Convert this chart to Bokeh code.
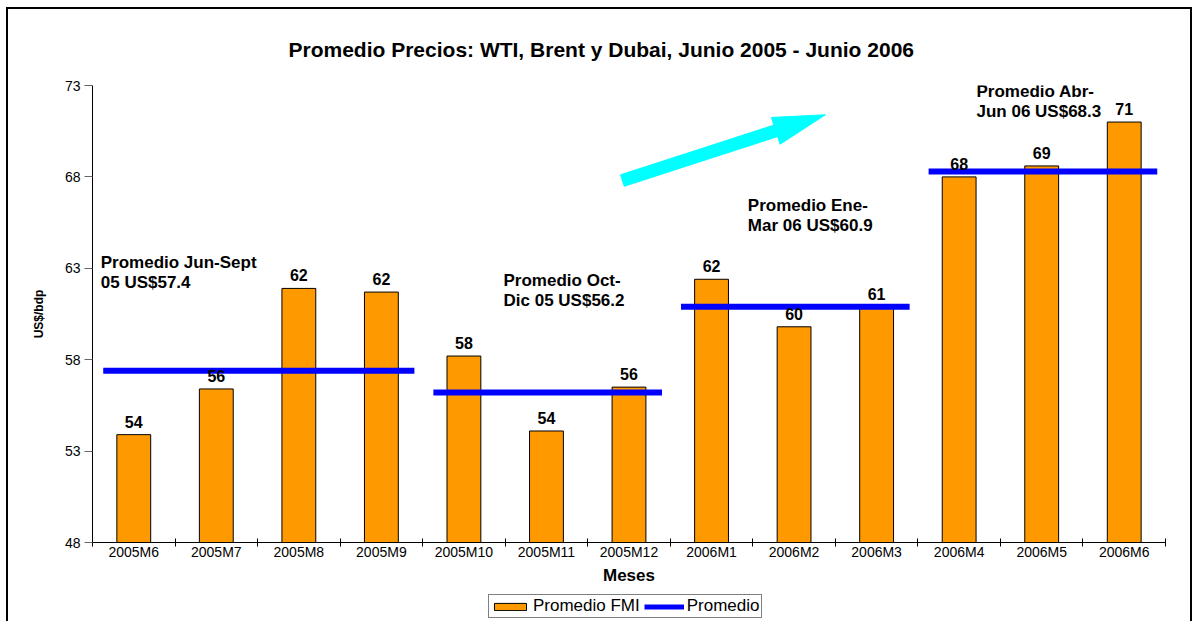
from bokeh.plotting import figure
from bokeh.layouts import column
from bokeh.models import (ColumnDataSource, FixedTicker, LabelSet, Legend, LegendItem, Range1d)
from bokeh.embed import file_html
from bokeh.resources import INLINE
from bokeh.core.properties import value

# ---------------- data ----------------
months = ["2005M6", "2005M7", "2005M8", "2005M9", "2005M10", "2005M11", "2005M12",
          "2006M1", "2006M2", "2006M3", "2006M4", "2006M5", "2006M6"]
prices = [53.9, 56.4, 61.9, 61.7, 58.2, 54.1, 56.5, 62.4, 59.8, 60.9, 68.0, 68.6, 71.0]
price_labels = ["54", "56", "62", "62", "58", "54", "56", "62", "60", "61", "68", "69", "71"]
y_ticks = [48, 53, 58, 63, 68, 73]

period_first = [0, 4, 7, 10]
period_last = [3, 6, 9, 12]
period_avg = [57.4, 56.2, 60.9, 68.3]
period_text = ["Promedio Jun-Sept\n05 US$57.4", "Promedio Oct-\nDic 05 US$56.2",
               "Promedio Ene-\nMar 06 US$60.9", "Promedio Abr-\nJun 06 US$68.3"]
series_names = ["Promedio FMI", "Promedio"]
# annotation anchors (x in month index, y in US$/bdp)
period_text_x = [-0.40, 4.48, 7.44, 10.21]
period_text_y = [63.85, 62.85, 66.95, 73.2]
arrow_start = (5.92, 67.8)
arrow_end = (8.38, 71.4)

# ---------------- layout ----------------
FW, FH = 1069, 455
BL, BR, BT, BB = 84, 29, 76, 50
Y0, Y1 = 48, 73
X0, X1 = -0.5, len(months) - 0.5
FONT = "Liberation Sans"
BAR_COLOR, LINE_COLOR = "#FF9900", "#0000FF"

p = figure(frame_width=FW, frame_height=FH,
           x_range=Range1d(X0, X1), y_range=Range1d(Y0, Y1),
           output_backend="svg", toolbar_location=None,
           min_border_left=BL, min_border_right=BR, min_border_top=BT, min_border_bottom=BB,
           title="Promedio Precios: WTI, Brent y Dubai, Junio 2005 - Junio 2006")
p.styles = {"border-left": "2px solid black", "border-top": "2px solid black",
            "border-right": "2px solid black", "margin-left": "6px", "margin-top": "7px"}
p.outline_line_color = None
p.grid.visible = False
p.background_fill_color = "white"
p.border_fill_color = "white"

p.title.text_font = FONT
p.title.text_font_size = "21px"
p.title.text_font_style = "bold"
p.title.text_color = "black"
p.title.align = "left"
p.title.offset = 196
p.title.standoff = 50

# bars
src = ColumnDataSource(dict(x=list(range(len(months))), top=prices, lab=price_labels))
p.vbar(x="x", top="top", bottom=Y0, width=0.41, source=src,
       fill_color=BAR_COLOR, line_color="black", line_width=1)

# value labels
p.add_layout(LabelSet(x="x", y="top", text="lab", source=src, text_align="center",
                      text_baseline="bottom", y_offset=7, text_font=value(FONT),
                      text_font_size="16px", text_font_style="bold", text_color="black"))

# period average lines
pad_l, pad_r = 0.37, 0.40
seg_src = ColumnDataSource(dict(x0=[f - pad_l for f in period_first],
                                x1=[l + pad_r for l in period_last],
                                y=period_avg))
p.segment(x0="x0", y0="y", x1="x1", y1="y", source=seg_src,
          line_color=LINE_COLOR, line_width=6, line_cap="butt")

# period annotations
ann_src = ColumnDataSource(dict(x=period_text_x, y=period_text_y, t=period_text))
p.add_layout(LabelSet(x="x", y="y", text="t", source=ann_src, text_align="left",
                      text_baseline="top", text_font=value(FONT), text_font_size="17px",
                      text_font_style="bold", text_color="black", text_line_height=1.05))

# cyan arrow as polygon built in pixel space
sx = FW / (X1 - X0)
sy = FH / (Y1 - Y0)
ax0, ay0 = arrow_start[0] * sx, arrow_start[1] * sy
ax1, ay1 = arrow_end[0] * sx, arrow_end[1] * sy
dx, dy = ax1 - ax0, ay1 - ay0
L = (dx ** 2 + dy ** 2) ** 0.5
ux, uy = dx / L, dy / L
nx, ny = -uy, ux
shaft_w, head_w, head_l = 12, 28, 52
bx, by = ax1 - ux * head_l, ay1 - uy * head_l
pts = [(ax0 + nx * shaft_w / 2, ay0 + ny * shaft_w / 2),
       (bx + nx * shaft_w / 2, by + ny * shaft_w / 2),
       (bx + nx * head_w / 2, by + ny * head_w / 2),
       (ax1, ay1),
       (bx - nx * head_w / 2, by - ny * head_w / 2),
       (bx - nx * shaft_w / 2, by - ny * shaft_w / 2),
       (ax0 - nx * shaft_w / 2, ay0 - ny * shaft_w / 2)]
p.patch([q[0] / sx for q in pts], [q[1] / sy for q in pts],
        fill_color="#00FFFF", line_color="#00FFFF", line_width=1)

# axes
xa = p.xaxis[0]
xa.ticker = FixedTicker(ticks=list(range(len(months))),
                        minor_ticks=[i - 0.5 for i in range(len(months) + 1)])
xa.major_label_overrides = {i: m for i, m in enumerate(months)}
xa.major_tick_line_color = None
xa.major_tick_in = 0
xa.major_tick_out = 0
xa.minor_tick_in = 4
xa.minor_tick_out = 4
xa.minor_tick_line_color = "black"
xa.axis_line_color = "black"
xa.major_label_text_font = FONT
xa.major_label_text_font_size = "14px"
xa.major_label_text_color = "black"
xa.major_label_standoff = -3
xa.axis_label = "Meses"
xa.axis_label_text_font = FONT
xa.axis_label_text_font_size = "17px"
xa.axis_label_text_font_style = "bold"
xa.axis_label_text_color = "black"
xa.axis_label_standoff = 3

ya = p.yaxis[0]
ya.ticker = FixedTicker(ticks=y_ticks)
ya.minor_tick_line_color = None
ya.major_tick_in = 0
ya.major_tick_out = 8
ya.major_tick_line_color = "#666666"
ya.axis_line_color = "black"
ya.major_label_text_font = FONT
ya.major_label_text_font_size = "14px"
ya.major_label_text_color = "black"
ya.major_label_standoff = 4
ya.axis_label = "US$/bdp"
ya.axis_label_text_font = FONT
ya.axis_label_text_font_size = "12px"
ya.axis_label_text_font_style = "bold"
ya.axis_label_text_color = "black"
ya.axis_label_standoff = 16

# legend strip below the chart (frame aligned with the main chart)
lg = figure(frame_width=FW, frame_height=31, output_backend="svg", toolbar_location=None,
            min_border_left=BL, min_border_right=BR, min_border_top=0, min_border_bottom=0,
            x_axis_type=None, y_axis_type=None,
            x_range=Range1d(0, 1), y_range=Range1d(0, 1))
lg.styles = {"border-left": "2px solid black", "border-right": "2px solid black",
             "margin-left": "6px"}
lg.outline_line_color = None
lg.grid.visible = False
lg.border_fill_color = "white"
lg.background_fill_color = "white"
# legend proxies sit outside the visible range of the strip
proxy = ColumnDataSource(dict(x=[-10, -9], top=[-10, -10], y=[-10, -10]))
lg_bar = lg.vbar(x="x", top="top", width=0.4, source=proxy,
                 fill_color=BAR_COLOR, line_color="black", line_width=1)
lg_line = lg.line(x="x", y="y", source=proxy, line_color=LINE_COLOR, line_width=5)
legend = Legend(items=[LegendItem(label=series_names[0], renderers=[lg_bar]),
                       LegendItem(label=series_names[1], renderers=[lg_line])],
                orientation="horizontal", location=(396, 3),
                border_line_color="black", border_line_width=1,
                background_fill_color="white", background_fill_alpha=1,
                label_text_font=FONT, label_text_font_size="17px", label_text_color="black",
                glyph_width=40, glyph_height=9, label_height=14,
                padding=1, spacing=4, margin=0, label_standoff=3)
lg.add_layout(legend)

layout = column(p, lg, spacing=0)
open("out.html", "w").write(file_html(layout, INLINE))
